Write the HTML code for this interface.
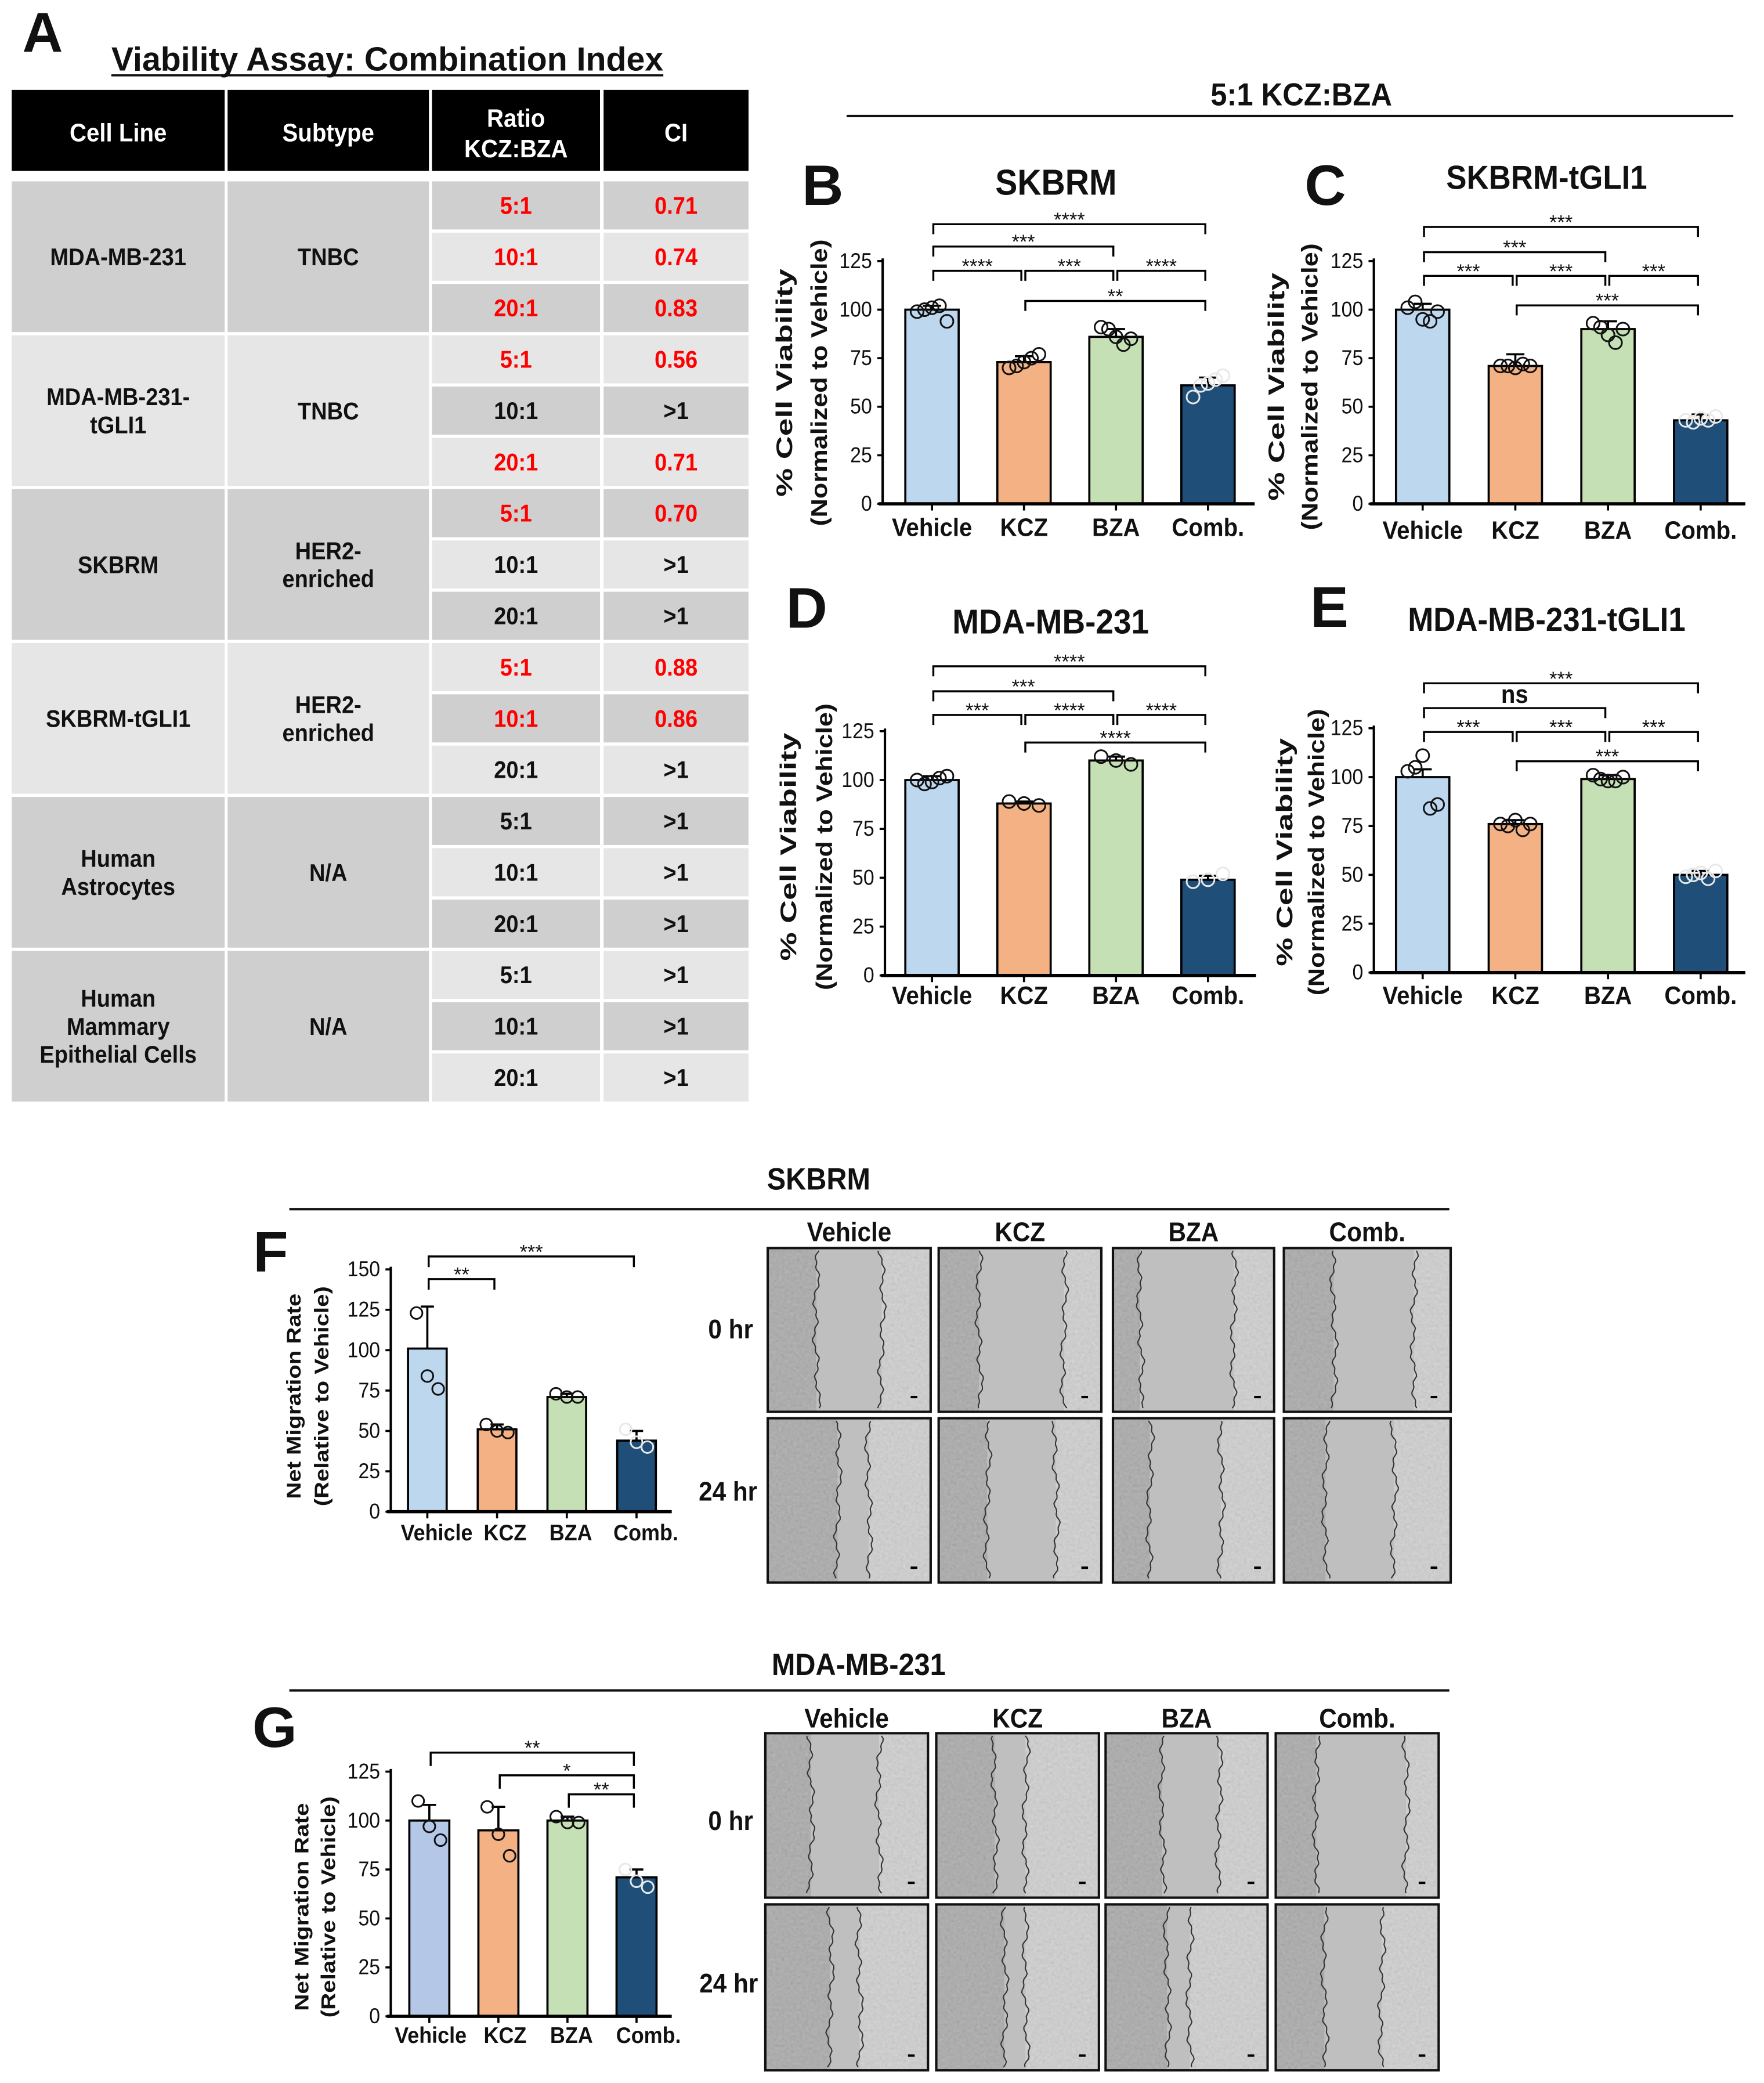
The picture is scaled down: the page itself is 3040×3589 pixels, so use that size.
<!DOCTYPE html>
<html><head><meta charset="utf-8"><title>KCZ BZA combination figure</title>
<style>html,body{margin:0;padding:0;background:#fff}svg{display:block}</style></head>
<body>
<svg id="fig" xmlns="http://www.w3.org/2000/svg" width="3040" height="3589" viewBox="0 0 1323 1562" preserveAspectRatio="none">
<defs>
<filter id="tex" x="0" y="0" width="100%" height="100%">
<feTurbulence type="fractalNoise" baseFrequency="0.45" numOctaves="2" seed="4"/>
<feColorMatrix type="matrix" values="0.33 0.33 0.33 0 0  0.33 0.33 0.33 0 0  0.33 0.33 0.33 0 0  0 0 0 0 1"/>
</filter>
</defs>
<rect x="0" y="0" width="1323" height="1562" fill="#fff"/>
</svg>
<script>
// ---------- TABLE DATA ----------
const tCell=["MDA-MB-231","MDA-MB-231-|tGLI1","SKBRM","SKBRM-tGLI1","Human|Astrocytes","Human|Mammary|Epithelial Cells"];
const tSub=["TNBC","TNBC","HER2-|enriched","HER2-|enriched","N/A","N/A"];
const tRatio=["5:1","10:1","20:1"];
const tCI=[["0.71","0.74","0.83"],["0.56",">1","0.71"],["0.70",">1",">1"],["0.88","0.86",">1"],[">1",">1",">1"],[">1",">1",">1"]];
const tRed=[[1,1,1],[1,0,1],[1,0,0],[1,1,0],[0,0,0],[0,0,0]];
const tGroupDark=[1,0,1,0,1,1];

// ---------- CHART DATA ----------
const categories=["Vehicle","KCZ","BZA","Comb."];
const bVals=[100,73,86,61];
const bErr=[2,3,4,4];
const bPts=[[99,100,101,102,94],[70,71,73,75,77],[91,90,86,82,85],[55,61,62,64,66]];
const bBr=[[0,3,144,"****"],[0,2,132.5,"***"],[0,1,120,"****"],[1,2,120,"***"],[2,3,120,"****"],[1,3,104.5,"**"]];
const cVals=[100,71,90,43];
const cErr=[3,6,4,3];
const cPts=[[101,104,95,94,99],[71,71,70,72,71],[93,91,87,83,90],[43,42,44,43,45]];
const cBr=[[0,3,142.6,"***"],[0,2,129.6,"***"],[0,1,117.4,"***"],[1,2,117.4,"***"],[2,3,117.4,"***"],[1,3,102.2,"***"]];
const dVals=[100,88,110,49];
const dErr=[2,1,2,2];
const dPts=[[100,98,99,101,102],[89,88,87],[112,110,108],[48,49,52]];
const dBr=[[0,3,158.2,"****"],[0,2,145.4,"***"],[0,1,133.3,"***"],[1,2,133.3,"****"],[2,3,133.3,"****"],[1,3,119.2,"****"]];
const eVals=[100,76,99,50];
const eErr=[4,2,2,2];
const ePts=[[103,105,111,84,86],[76,75,78,73,76],[101,99,98,98,100],[49,50,51,48,52]];
const eBr=[[0,3,148,"***"],[0,2,135.3,"ns"],[0,1,123.1,"***"],[1,2,123.1,"***"],[2,3,123.1,"***"],[1,3,108.1,"***"]];
const fVals=[101,51,71,44];
const fErr=[26,3,2,6];
const fPts=[[123,84,76],[54,50,49],[73,71,71],[51,43,40]];
const fBr=[[0,3,158,"***"],[0,1,144,"**"]];
const gVals=[100,95,100,71];
const gErr=[8,12,2,4];
const gPts=[[110,97,90],[107,93,82],[102,99,99],[75,69,66]];
const gBr=[[0,3,134.7,"**"],[1,3,123.1,"*"],[2,3,113.4,"**"]];
const yTicksViab=[0,25,50,75,100,125];
const yTicksMigF=[0,25,50,75,100,125,150];
const yTicksMigG=[0,25,50,75,100,125];

const NS="http://www.w3.org/2000/svg";
const svg=document.getElementById('fig');
const NARROW="'Liberation Sans',Arial,sans-serif";
const WIDE="'Liberation Sans',Arial,sans-serif";
const SX=0.92;
function mk(tag,attrs,parent){const e=document.createElementNS(NS,tag);for(const k in attrs)e.setAttribute(k,attrs[k]);(parent||svg).appendChild(e);return e;}
function txt(str,x,y,fs,opt,parent){opt=opt||{};const wide=!!opt.family;
  const e=mk('text',{x:wide?x:0,y:wide?y:0,'font-size':fs,'font-family':opt.family||NARROW,'font-weight':opt.weight||'bold','text-anchor':opt.anchor||'middle',fill:opt.fill||'#111'},parent);
  if(!wide)e.setAttribute('transform',`translate(${x} ${y}) scale(${SX} 1)`);
  if(opt.tl){e.setAttribute('textLength',wide?opt.tl:opt.tl/SX);e.setAttribute('lengthAdjust','spacingAndGlyphs');}
  if(opt.transform)e.setAttribute('transform',opt.transform);e.textContent=str;return e;}

// ---------- Panel A ----------
let e;
e=txt("A",32,38.8,42,{family:WIDE});


e=txt("Viability  Assay: Combination Index",290.5,52.8,25,{tl:414});


e=mk('line',{x1:83.5,y1:56.5,x2:497.5,y2:56.5,stroke:'#111','stroke-width':1.6});



const cols=[[8.8,168.5],[170.7,321.7],[324,450],[452.7,561.4]];
const heads=[["Cell Line"],["Subtype"],["Ratio","KCZ:BZA"],["CI"]];
heads.forEach((h,i)=>{
  const c=cols[i];
  const r=mk('rect',{x:c[0],y:67.4,width:c[1]-c[0],height:60.8,fill:'#000'});
  
  
  const cx=(c[0]+c[1])/2;
  if(h.length===1){const t=txt(h[0],cx,106,19,{fill:'#fff'});}
  else{h.forEach((s,k)=>{const t=txt(s,cx,95+k*23,19,{fill:'#fff'});});}
});
const DARK='#d0cfcf',LIGHT='#e6e6e6';
const gH=115.4,rH=38.47,gap=2.4,tTop=136;
function multi(str,cx,cy,fs,lh,name){const parts=str.split('|');const n=parts.length;parts.forEach((s,k)=>{const t=txt(s,cx,cy-(n-1)*lh/2+k*lh+fs*0.36,fs);});}
for(let g=0;g<6;g++){
  const gy=tTop+g*gH;const gh=3*rH-gap;
  for(let c=0;c<2;c++){
    const r=mk('rect',{x:cols[c][0],y:gy,width:cols[c][1]-cols[c][0],height:gh,fill:tGroupDark[g]?DARK:LIGHT});
    
    
  }
  multi(tCell[g],(cols[0][0]+cols[0][1])/2,gy+gh/2,18,21,'cell-line-name');
  multi(tSub[g],(cols[1][0]+cols[1][1])/2,gy+gh/2,18,21,'subtype-name');
  for(let r=0;r<3;r++){
    const ry=gy+r*rH;const idx=g*3+r;
    for(let c=2;c<4;c++){
      const rc=mk('rect',{x:cols[c][0],y:ry,width:cols[c][1]-cols[c][0],height:rH-gap,fill:idx%2===0?DARK:LIGHT});
      
      
    }
    const col=tRed[g][r]?'#ff0000':'#111';
    const t1=txt(tRatio[r],(cols[2][0]+cols[2][1])/2,ry+(rH-gap)/2+6.3,18,{fill:col});
    
    
    const t2=txt(tCI[g][r],(cols[3][0]+cols[3][1])/2,ry+(rH-gap)/2+6.3,18,{fill:col});
    
    
  }
}

// ---------- header 5:1 ----------
e=txt("5:1 KCZ:BZA",976,79,24);


e=mk('line',{x1:635,y1:87,x2:1300,y2:87,stroke:'#111','stroke-width':1.8});



// ---------- charts ----------
const barFill=['#bdd7ee','#f4b183','#c5e0b4','#1f4e79'];
function drawChart(cfg,vals,errs,pts,brs,ticks){
  const g=mk('g',{});
  
  
  const yS=v=>cfg.y0-(v/cfg.ymax)*(cfg.y0-cfg.yTop);
  const xC=i=>cfg.c0+i*cfg.sp;
  vals.forEach((v,i)=>{
    const fill=(cfg.fills&&cfg.fills[i])||barFill[i];
    const b=mk('rect',{x:xC(i)-cfg.bw/2,y:yS(v),width:cfg.bw,height:cfg.y0-yS(v),fill:fill,stroke:'#000','stroke-width':1.6},g);
    
    
    const er=mk('path',{d:`M${xC(i)} ${yS(v)} V${yS(v+errs[i])} M${xC(i)-cfg.bw*0.17} ${yS(v+errs[i])} H${xC(i)+cfg.bw*0.17}`,stroke:'#000','stroke-width':1.6,fill:'none'},g);
    
    
    const p=pts[i];const n=p.length;
    p.forEach((pv,k)=>{
      const off=n===1?0:(-cfg.bw*0.28+k*(cfg.bw*0.56/(n-1)));
      const c=mk('circle',{cx:xC(i)+off,cy:yS(pv),r:cfg.r||4.8,fill:'none',stroke:i===3?'#e8e8e8':'#111','stroke-width':1.3},g);
      
      
    });
  });
  const ya=mk('line',{x1:cfg.x0,y1:cfg.yTop-2,x2:cfg.x0,y2:cfg.y0,stroke:'#000','stroke-width':1.8},g);
  
  
  const xa=mk('line',{x1:cfg.x0-3,y1:cfg.y0,x2:cfg.xEnd,y2:cfg.y0,stroke:'#000','stroke-width':2.4},g);
  
  
  ticks.forEach(t=>{
    const tm=mk('line',{x1:cfg.x0-4,y1:yS(t),x2:cfg.x0,y2:yS(t),stroke:'#000','stroke-width':1.6},g);
    
    
    const tl=txt(String(t),cfg.x0-8,yS(t)+5.2,cfg.tickFs||16,{anchor:'end',weight:'normal'},g);
    
    
  });
  categories.forEach((c,i)=>{
    const tm=mk('line',{x1:xC(i),y1:cfg.y0,x2:xC(i),y2:cfg.y0+5,stroke:'#000','stroke-width':1.6},g);
    
    
    const dx=cfg.labDx?cfg.labDx[i]:0;
    const tl=txt(c,xC(i)+dx,cfg.labY,cfg.catFs||19,{},g);
    
    
  });
  brs.forEach(b=>{
    const xl=xC(b[0])+1,xr=xC(b[1])-2,y=yS(b[2]),d=cfg.drop;
    const p=mk('path',{d:`M${xl} ${y+d} V${y} H${xr} V${y+d}`,stroke:'#000','stroke-width':1.5,fill:'none'},g);
    
    
    const isNs=b[3]==='ns';
    const t=isNs?txt(b[3],(xl+xr)/2,y-4,19,{},g):txt(b[3],(xl+xr)/2,y+1.5,cfg.starFs||15,{weight:'normal',family:WIDE},g);
    
    
  });
  cfg.ylab.forEach((s,k)=>{
    const x=cfg.ylabX[k];
    const t=txt(s,x,cfg.ylabY,cfg.ylabFs,{family:WIDE,tl:cfg.ylabTL[k],transform:`rotate(-90 ${x} ${cfg.ylabY})`},g);
    t.setAttribute('dy',cfg.ylabFs*0.36);
    
    
  });
  if(cfg.title){const t=txt(cfg.title[0],cfg.title[1],cfg.title[2],cfg.title[3],{},g);}
  const L=txt(cfg.letter[0],cfg.letter[1],cfg.letter[2],43,{family:WIDE},g);
  
  
}
const viabLab=["% Cell Viability","(Normalized to Vehicle)"];
drawChart({name:'chart-b-skbrm',x0:662,yTop:195.8,y0:377.8,xEnd:941,ymax:125,c0:699,sp:69,bw:40,labY:402,drop:7.5,
  ylab:viabLab,ylabX:[588,614],ylabY:287,ylabFs:17,ylabTL:[171,215],title:["SKBRM",792,146,27],letter:["B",617,153.6]},bVals,bErr,bPts,bBr,yTicksViab);
drawChart({name:'chart-c-skbrm-tgli1',x0:1030.4,yTop:195.8,y0:377.8,xEnd:1309,ymax:125,c0:1067,sp:69.5,bw:40,labY:404,drop:7.5,
  ylab:viabLab,ylabX:[957,982],ylabY:290,ylabFs:17,ylabTL:[171,215],title:["SKBRM-tGLI1",1160,141.6,25],letter:["C",994,153.6]},cVals,cErr,cPts,cBr,yTicksViab);
drawChart({name:'chart-d-mda-mb-231',x0:663.7,yTop:548.3,y0:731.5,xEnd:942,ymax:125,c0:699,sp:69,bw:40,labY:753,drop:7.5,
  ylab:viabLab,ylabX:[591,618],ylabY:635,ylabFs:17,ylabTL:[171,215],title:["MDA-MB-231",788,475,26],letter:["D",605,470.7]},dVals,dErr,dPts,dBr,yTicksViab);
drawChart({name:'chart-e-mda-mb-231-tgli1',x0:1030.4,yTop:546.1,y0:729.3,xEnd:1309,ymax:125,c0:1067,sp:69.5,bw:40,labY:753,drop:7.5,
  ylab:viabLab,ylabX:[963,987],ylabY:639,ylabFs:17,ylabTL:[171,215],title:["MDA-MB-231-tGLI1",1160,473,25],letter:["E",997,470]},eVals,eErr,ePts,eBr,yTicksViab);
const migLab=["Net Migration Rate","(Relative to Vehicle)"];
drawChart({name:'chart-f-migration-skbrm',x0:293.1,yTop:951.9,y0:1133.6,xEnd:503.8,ymax:150,c0:320.5,sp:52.3,bw:29,labY:1155,drop:8,catFs:17,r:4.4,
  labDx:[7,6,3,7],ylab:migLab,ylabX:[220,241],ylabY:1047,ylabFs:15,ylabTL:[154,165],letter:["F",203,953.5]},fVals,fErr,fPts,fBr,yTicksMigF);
drawChart({name:'chart-g-migration-mda-mb-231',x0:293.1,yTop:1328.5,y0:1512,xEnd:503.8,ymax:125,c0:322,sp:51.8,bw:30,labY:1532,drop:10,catFs:17,r:4.4,
  fills:['#b4c7e7',null,null,null],labDx:[1,5,3,9],ylab:migLab,ylabX:[226,246],ylabY:1430,ylabFs:15,ylabTL:[156,166],letter:["G",206,1310]},gVals,gErr,gPts,gBr,yTicksMigG);

e=txt("SKBRM",614,892,23);


e=mk('line',{x1:217,y1:906.7,x2:1087,y2:906.7,stroke:'#111','stroke-width':1.8});


e=txt("MDA-MB-231",644,1256,23);


e=mk('line',{x1:217,y1:1267.6,x2:1087,y2:1267.6,stroke:'#111','stroke-width':1.8});



// ---------- micrographs (image approximations) ----------
function wavyPath(ex,y1,y2,seed){let d='';for(let y=y1;y<=y2;y+=2){const x=ex+1.6*Math.sin(y*0.21+seed)+1.1*Math.sin(y*0.053+seed*2.3)+0.8*Math.sin(y*0.7+seed*5);d+=(d?'L':'M')+x.toFixed(2)+' '+y.toFixed(1);}return d;}
function micro(x1,y1,x2,y2,fl,fr,seed,name){
  const g=mk('g',{});
  
  
  const w=x2-x1,el=x1+w*fl,er=x1+w*fr;
  mk('rect',{x:x1,y:y1,width:el-x1,height:y2-y1,fill:'#a9a9a9'},g);
  mk('rect',{x:el,y:y1,width:er-el,height:y2-y1,fill:'#bfbfbf'},g);
  mk('rect',{x:er,y:y1,width:x2-er,height:y2-y1,fill:'#d2d2d2'},g);
  mk('rect',{x:x1,y:y1,width:el-x1,height:y2-y1,fill:'#fff',filter:'url(#tex)',opacity:0.22},g);
  mk('rect',{x:er,y:y1,width:x2-er,height:y2-y1,fill:'#fff',filter:'url(#tex)',opacity:0.22},g);
  mk('path',{d:wavyPath(el,y1+2,y2-2,seed),stroke:'#333','stroke-width':0.9,fill:'none'},g);
  mk('path',{d:wavyPath(er,y1+2,y2-2,seed+1.7),stroke:'#333','stroke-width':0.9,fill:'none'},g);
  mk('rect',{x:x2-15,y:y2-12,width:5,height:1.8,fill:'#000'},g);
  const b=mk('rect',{x:x1,y:y1,width:w,height:y2-y1,fill:'none',stroke:'#111','stroke-width':1.8},g);
  
  
}
const fColsX=[[575.8,698],[704,826],[834.7,955.6],[962.9,1088]];
const fRowsY=[[935.9,1058.7],[1063.5,1186.7]];
const fEdges=[[[0.3,0.7],[0.25,0.77],[0.17,0.75],[0.3,0.78]],[[0.43,0.62],[0.3,0.72],[0.23,0.67],[0.25,0.66]]];
const gColsX=[[574,696],[702.2,824.2],[829.2,950.7],[956.8,1079]];
const gRowsY=[[1299.7,1423],[1428.1,1552.5]];
const gEdges=[[[0.28,0.7],[0.36,0.55],[0.35,0.7],[0.25,0.8]],[[0.4,0.58],[0.42,0.55],[0.38,0.52],[0.3,0.65]]];
[0,1].forEach(r=>fColsX.forEach((c,i)=>micro(c[0],fRowsY[r][0],c[1],fRowsY[r][1],fEdges[r][i][0],fEdges[r][i][1],i*3+r*7+1,'micrograph-f-'+categories[i].toLowerCase().replace('.','')+(r?'-24hr':'-0hr'))));
[0,1].forEach(r=>gColsX.forEach((c,i)=>micro(c[0],gRowsY[r][0],c[1],gRowsY[r][1],gEdges[r][i][0],gEdges[r][i][1],i*5+r*3+2,'micrograph-g-'+categories[i].toLowerCase().replace('.','')+(r?'-24hr':'-0hr'))));
categories.forEach((c,i)=>{
  let t=txt(c,(fColsX[i][0]+fColsX[i][1])/2,930.7,20);
  
  
  t=txt(c,(gColsX[i][0]+gColsX[i][1])/2,1295.5,20);
  
  
});
[["0 hr",548,1003.6],["24 hr",546,1125.3],["0 hr",548,1372.3],["24 hr",546.5,1494]].forEach(a=>{
  const t=txt(a[0],a[1],a[2],20);
  
  
});
</script>
</body></html>
